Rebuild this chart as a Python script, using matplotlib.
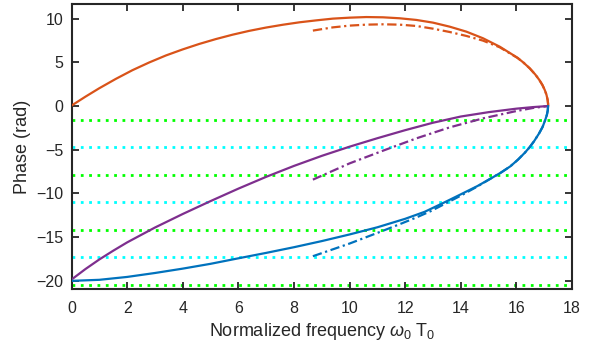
import numpy as np
import matplotlib
matplotlib.use("Agg")
import matplotlib.pyplot as plt

plt.rcParams['font.family'] = ['Liberation Sans', 'DejaVu Sans']
plt.rcParams['mathtext.fontset'] = 'custom'
plt.rcParams['mathtext.rm'] = 'Liberation Sans'
plt.rcParams['mathtext.it'] = 'Liberation Sans:italic'

# ---- data ----
orange_x = [0, 0.5, 0.99, 1.59, 2.19, 2.79, 3.39, 3.99, 4.59, 5.19, 5.79, 6.39, 7.0, 7.6, 8.2,
            8.8, 9.4, 10.0, 10.6, 11.2, 11.8, 12.4, 13.0, 13.6, 14.2, 14.8, 15.4, 16.04,
            16.25, 16.48, 16.68, 16.825, 16.936, 17.02, 17.08, 17.123, 17.137, 17.14]
orange_y = [0.05, 1.07, 2.02, 3.1, 4.1, 4.98, 5.78, 6.47, 7.1, 7.66, 8.16, 8.6, 8.98, 9.3, 9.58,
            9.8, 10.0, 10.11, 10.18, 10.15, 10.04, 9.85, 9.54, 9.08, 8.51, 7.75, 6.79, 5.52,
            4.98, 4.31, 3.6, 2.98, 2.4, 1.83, 1.3, 0.69, 0.3, 0]

orange_dd_x = [8.68, 9.4, 10.0, 10.6, 11.2, 11.8, 12.4, 13.0, 13.6, 14.2, 14.8, 15.4, 16.04,
               16.25, 16.48, 16.68, 16.825, 16.936, 17.02, 17.08, 17.123, 17.137, 17.14]
orange_dd_y = [8.63, 9.0, 9.2, 9.31, 9.35, 9.31, 9.16, 8.85, 8.47, 8.02, 7.48, 6.72, 5.5,
               4.98, 4.31, 3.6, 2.98, 2.4, 1.83, 1.3, 0.69, 0.3, 0]

purple_x = [0, 0.5, 1, 1.5, 2, 3, 4, 5, 6, 7, 8, 9, 10, 11, 12, 13, 14, 15, 16, 16.6, 17.14]
purple_y = [-19.85, -18.65, -17.55, -16.55, -15.6, -13.9, -12.35, -10.875, -9.45, -8.1, -6.85,
            -5.7, -4.65, -3.68, -2.76, -1.91, -1.2, -0.7, -0.3, -0.12, 0]

purple_dd_x = [8.68, 10.0, 11.2, 12.4, 13.6, 14.8, 16.0, 16.6, 17.14]
purple_dd_y = [-8.42, -6.56, -5.11, -3.7, -2.44, -1.41, -0.57, -0.22, 0]

blue_x = [0, 1, 2, 3, 4, 5, 6, 7, 8, 9, 10, 11, 12, 12.7, 13.36, 14.0, 14.6, 15.1, 15.45,
          15.78, 16.05, 16.3, 16.48, 16.64, 16.815, 16.94, 17.04, 17.096, 17.127, 17.14]
blue_y = [-20, -19.88, -19.55, -19.1, -18.6, -18.05, -17.42, -16.8, -16.15, -15.45, -14.69,
          -13.87, -12.9, -12.1, -11.1, -10.1, -9.15, -8.25, -7.6, -6.9, -6.15, -5.35, -4.69,
          -4.0, -3.13, -2.4, -1.56, -1.0, -0.5, 0]

blue_dd_x = [8.68, 9.3, 10.0, 10.6, 11.2, 11.8, 12.4, 12.9, 13.36, 14.0, 14.6, 15.1, 15.45,
             15.78, 16.05, 16.3, 16.48, 16.64, 16.815, 16.94, 17.04, 17.096, 17.127, 17.14]
blue_dd_y = [-17.18, -16.5, -15.73, -15.0, -14.27, -13.52, -12.75, -12.05, -11.3, -10.25, -9.2,
             -8.25, -7.6, -6.9, -6.15, -5.35, -4.69, -4.0, -3.13, -2.4, -1.56, -1.0, -0.5, 0]

green_levels = [-np.pi / 2, -5 * np.pi / 2, -9 * np.pi / 2, -13 * np.pi / 2]
cyan_levels = [-3 * np.pi / 2, -7 * np.pi / 2, -11 * np.pi / 2]

xticks = [0, 2, 4, 6, 8, 10, 12, 14, 16, 18]
yticks = [-20, -15, -10, -5, 0, 5, 10]

# ---- style ----
C_BLUE = '#0072BD'
C_ORANGE = '#D95319'
C_PURPLE = '#7E2F8E'
C_GREEN = '#00FF00'
C_CYAN = '#00FFFF'
TXT = '#262626'

fig = plt.figure(figsize=(5.95, 3.58), dpi=100)
ax = fig.add_axes([0.1202, 0.193, 0.8412, 0.796])

for lv in green_levels:
    ax.axhline(lv, color=C_GREEN, lw=2.0, linestyle=(0, (1, 2)), zorder=1)
for lv in cyan_levels:
    ax.axhline(lv, color=C_CYAN, lw=2.0, linestyle=(0, (1, 2)), zorder=1)

lw = 1.6
dd = (0, (4.2, 1.6, 1.0, 1.6))
kw = dict(lw=lw, zorder=3, solid_joinstyle='round', solid_capstyle='round')
ax.plot(orange_x, orange_y, color=C_ORANGE, **kw)
ax.plot(orange_dd_x, orange_dd_y, color=C_ORANGE, linestyle=dd, lw=lw, zorder=3)
ax.plot(purple_x, purple_y, color=C_PURPLE, **kw)
ax.plot(purple_dd_x, purple_dd_y, color=C_PURPLE, linestyle=dd, lw=lw, zorder=3)
ax.plot(blue_x, blue_y, color=C_BLUE, **kw)
ax.plot(blue_dd_x, blue_dd_y, color=C_BLUE, linestyle=dd, lw=lw, zorder=3)

ax.set_xlim(0, 18)
ax.set_ylim(-20.92, 11.68)
ax.set_xticks(xticks)
ax.set_yticks(yticks)
ax.tick_params(direction='in', length=5, width=1.3, top=True, right=True,
               labelsize=11.5, colors=TXT)
ax.tick_params(axis='x', pad=9)
ax.tick_params(axis='y', pad=6)
for s in ax.spines.values():
    s.set_linewidth(1.5)
    s.set_color(TXT)

ax.set_xlabel(r'Normalized frequency $\omega_0$ T$_0$', fontsize=13, color=TXT, labelpad=3)
ax.set_ylabel('Phase (rad)', fontsize=13, color=TXT, labelpad=4)

fig.savefig('out.png', dpi=100)
